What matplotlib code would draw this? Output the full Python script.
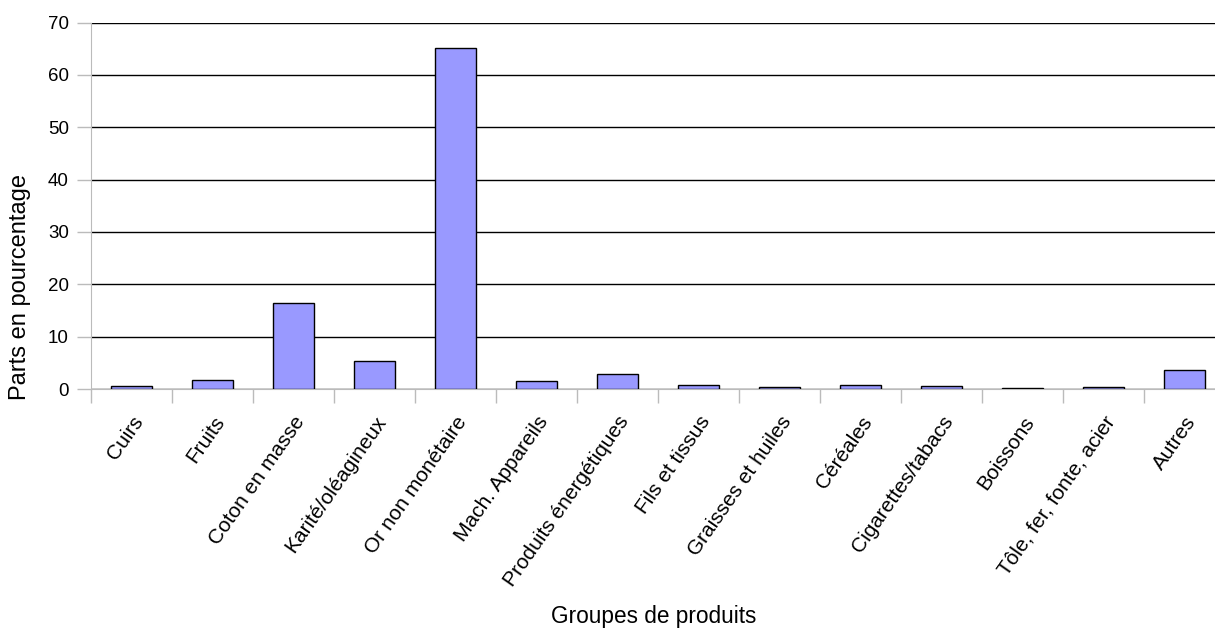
import numpy as np
import matplotlib.pyplot as plt

plt.rcParams['font.family'] = ['Liberation Sans', 'DejaVu Sans']

produits = ['Cuirs', 'Fruits', 'Coton en masse', 'Karité/oléagineux',
            'Or non monétaire', 'Mach. Appareils', 'Produits énergétiques',
            'Fils et tissus', 'Graisses et huiles', 'Céréales',
            'Cigarettes/tabacs', 'Boissons', 'Tôle, fer, fonte, acier', 'Autres']
parts = [0.5, 1.7, 16.4, 5.3, 65.1, 1.6, 2.9, 0.8, 0.3, 0.7, 0.55, 0.2, 0.3, 3.6]

fig = plt.figure(figsize=(12.15, 6.3), dpi=100)
# plot area runs slightly past the right edge of the figure
ax = fig.add_axes([0.0749, 0.3825, 0.9333, 0.5817])

x = np.arange(len(produits))
ax.bar(x, parts, width=0.506, color='#9999FF', edgecolor='black', linewidth=1, zorder=3)

ax.set_xlim(-0.5, len(produits) - 0.5)
ax.set_ylim(0, 70)
ax.set_yticks(range(0, 71, 10))
ax.yaxis.grid(True, color='black', linewidth=1)
ax.set_axisbelow(True)

# category labels centred on bars, tick marks between categories
ax.set_xticks(x)
ax.set_xticklabels(produits, rotation=55, ha='right', rotation_mode='anchor', fontsize=15)
ax.tick_params(axis='x', length=0, pad=17)
ax.set_xticks(np.arange(-0.5, len(produits)), minor=True)
ax.tick_params(axis='x', which='minor', length=10, color='#bbbbbb', width=1)
ax.tick_params(axis='y', length=10, color='#bbbbbb', width=1, labelsize=13.5, pad=6)

for side in ['top', 'right']:
    ax.spines[side].set_visible(False)
ax.spines['left'].set_color('#bbbbbb')
ax.spines['bottom'].set_color('#bbbbbb')

fig.text(0.0165, 0.544, 'Parts en pourcentage', fontsize=17, rotation=90,
         ha='center', va='center')
fig.text(0.538, 0.022, 'Groupes de produits', fontsize=16.3, ha='center', va='center')

fig.savefig('out.png', dpi=100)
